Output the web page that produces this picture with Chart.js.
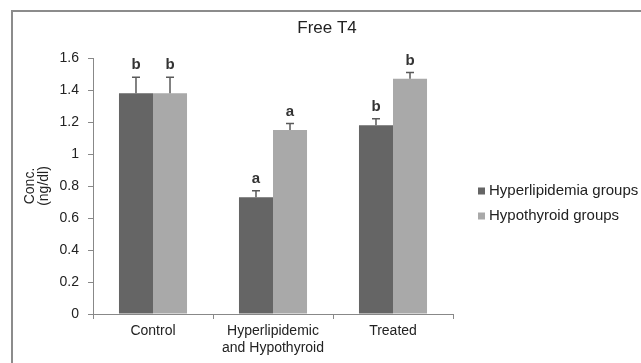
<!DOCTYPE html>
<html>
<head>
<meta charset="utf-8">
<script src="https://cdn.jsdelivr.net/npm/chart.js@4/dist/chart.umd.min.js"></script>
<style>
  html, body { margin: 0; padding: 0; background: #fff; }
  body { width: 641px; height: 363px; position: relative; overflow: hidden; }
  #frame { position: absolute; left: 11px; top: 10px; width: 700px; height: 400px;
           border-left: 2px solid #8c8c8c; border-top: 2px solid #8c8c8c; z-index: 0; }
  #c { position: absolute; left: 0; top: 0; z-index: 1; }
</style>
</head>
<body>
<div id="frame"></div>
<canvas id="c" width="641" height="363"></canvas>
<script>
// ---- data ----
const categories = ['Control', ['Hyperlipidemic', 'and Hypothyroid'], 'Treated'];
const seriesNames = ['Hyperlipidemia groups', 'Hypothyroid groups'];
const hyperlipidemia = [1.38, 0.73, 1.18];
const hypothyroid = [1.38, 1.15, 1.47];
const hyperlipidemiaErr = [0.10, 0.04, 0.04];
const hypothyroidErr = [0.10, 0.04, 0.04];
const hyperlipidemiaLetters = ['b', 'a', 'b'];
const hypothyroidLetters = ['b', 'a', 'b'];
const yTicks = [0, 0.2, 0.4, 0.6, 0.8, 1, 1.2, 1.4, 1.6];
const chartTitle = 'Free T4';
const yTitle = ['Conc.', '(ng/dl)'];

const FONT = "'Liberation Sans', Arial, sans-serif";
const errs = [hyperlipidemiaErr, hypothyroidErr];
const letters = [hyperlipidemiaLetters, hypothyroidLetters];

const errorBarPlugin = {
  id: 'errorBars',
  afterDatasetsDraw(chart) {
    const ctx = chart.ctx;
    const y = chart.scales.y;
    chart.data.datasets.forEach((ds, di) => {
      const meta = chart.getDatasetMeta(di);
      meta.data.forEach((bar, i) => {
        const v = ds.data[i];
        const top = y.getPixelForValue(v + errs[di][i]);
        const base = y.getPixelForValue(v);
        ctx.save();
        ctx.strokeStyle = '#5a5a5a';
        ctx.lineWidth = 1.5;
        ctx.beginPath();
        ctx.moveTo(bar.x, base);
        ctx.lineTo(bar.x, top);
        ctx.moveTo(bar.x - 4, top);
        ctx.lineTo(bar.x + 4, top);
        ctx.stroke();
        ctx.fillStyle = '#333';
        ctx.font = 'bold 15px ' + FONT;
        ctx.textAlign = 'center';
        ctx.textBaseline = 'middle';
        ctx.fillText(letters[di][i], bar.x, top - 12);
        ctx.restore();
      });
    });
  }
};

const titleAndLegendPlugin = {
  id: 'titleLegend',
  afterDraw(chart) {
    const ctx = chart.ctx;
    ctx.save();
    // title
    ctx.font = '17px ' + FONT;
    ctx.fillStyle = '#222';
    ctx.textAlign = 'center';
    ctx.textBaseline = 'middle';
    ctx.fillText(chartTitle, 327, 28);
    // legend
    ctx.font = '15px ' + FONT;
    ctx.textAlign = 'left';
    chart.data.datasets.forEach((ds, i) => {
      const cy = 191 + i * 25;
      ctx.fillStyle = ds.backgroundColor;
      ctx.fillRect(478, cy - 3.5, 7, 7);
      ctx.fillStyle = '#222';
      ctx.fillText(ds.label, 489, cy);
    });
    ctx.restore();
  }
};

new Chart(document.getElementById('c'), {
  type: 'bar',
  data: {
    labels: categories,
    datasets: [
      { label: seriesNames[0], data: hyperlipidemia, backgroundColor: '#656565', borderWidth: 0 },
      { label: seriesNames[1], data: hypothyroid, backgroundColor: '#a9a9a9', borderWidth: 0 }
    ]
  },
  options: {
    responsive: false,
    animation: false,
    devicePixelRatio: 1,
    layout: { padding: { left: 0, right: 188, top: 58, bottom: 0 } },
    datasets: { bar: { categoryPercentage: 0.567, barPercentage: 1.0 } },
    plugins: {
      legend: { display: false },
      tooltip: { enabled: false },
      title: { display: false }
    },
    scales: {
      x: {
        grid: { display: true, drawOnChartArea: false, tickLength: 5, color: '#888', offset: true },
        border: { color: '#888', width: 1 },
        ticks: { color: '#222', font: { family: FONT, size: 14, lineHeight: 1.2 }, padding: 4, maxRotation: 0, autoSkip: false },
        afterFit(scale) { scale.height = 49; }
      },
      y: {
        min: 0, max: 1.6,
        grid: { display: true, drawOnChartArea: false, tickLength: 5, color: '#888' },
        border: { color: '#888', width: 1 },
        afterBuildTicks(scale) { scale.ticks = yTicks.map(v => ({ value: v })); },
        ticks: {
          color: '#222', font: { family: FONT, size: 14 }, padding: 9,
          callback: (v) => String(Math.round(v * 10) / 10)
        },
        title: {
          display: true, text: yTitle, color: '#222',
          font: { family: FONT, size: 14, lineHeight: 1.0 },
          padding: { top: 23, bottom: 0 }
        },
        afterFit(scale) { scale.width = 93; }
      }
    }
  },
  plugins: [errorBarPlugin, titleAndLegendPlugin]
});
</script>
</body>
</html>
